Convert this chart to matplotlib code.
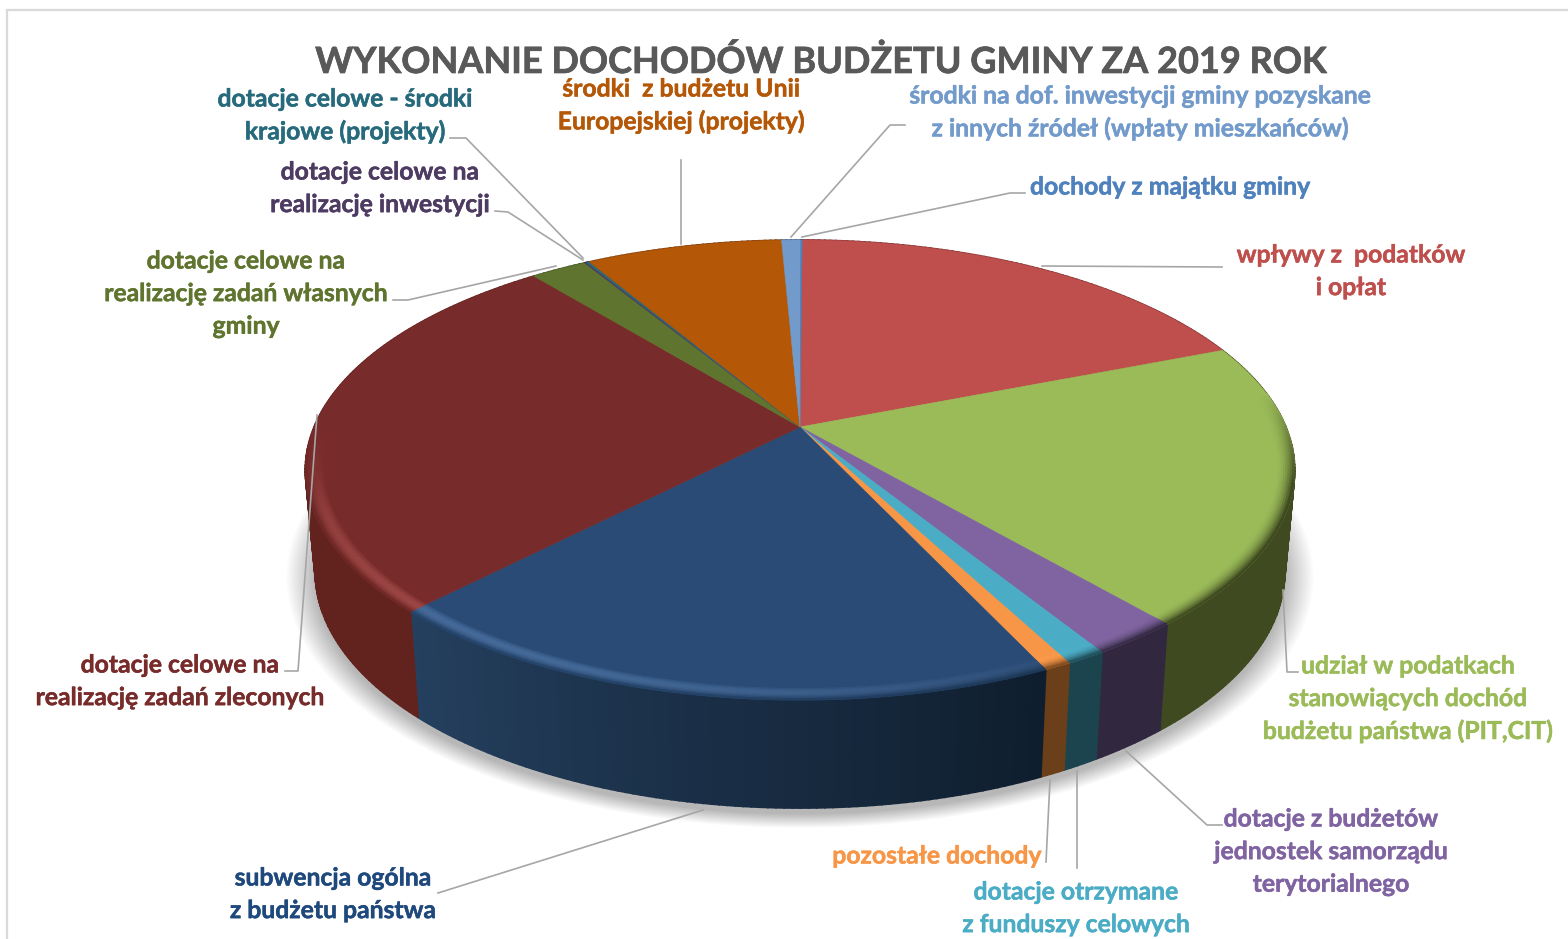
import numpy as np
import matplotlib
matplotlib.use('Agg')
import matplotlib.pyplot as plt
import matplotlib.patheffects as pe
from matplotlib.colors import to_rgb
from matplotlib.patches import Polygon, Rectangle

plt.rcParams['font.family'] = ['Lato', 'DejaVu Sans']

categories = ['wpływy z  podatków\ni opłat',
              'udział w podatkach\nstanowiących dochód\nbudżetu państwa (PIT,CIT)',
              'dotacje z budżetów\njednostek samorządu\nterytorialnego',
              'dotacje otrzymane\nz funduszy celowych',
              'pozostałe dochody',
              'subwencja ogólna\nz budżetu państwa',
              'dotacje celowe na\nrealizację zadań zleconych',
              'dotacje celowe na\nrealizację zadań własnych\ngminy',
              'dotacje celowe na\nrealizację inwestycji',
              'dotacje celowe - środki\nkrajowe (projekty)',
              'środki  z budżetu Unii\nEuropejskiej (projekty)',
              'środki na dof. inwestycji gminy pozyskane\nz innych źródeł (wpłaty mieszkańców)',
              'dochody z majątku gminy']
values = [18.9, 19.8, 2.47, 1.1, 0.75, 19.1, 27.0, 2.2, 0.08, 0.12, 7.68, 0.75, 0.05]
top_colors = ['#BE4F4D', '#9BBB59', '#8064A2', '#4BACC6', '#F79646', '#2A4B75', '#772B2A',
              '#5F752F', '#4D3B62', '#276A7C', '#B45706', '#729ACA', '#4F81BD']
wall_colors = ['#7A302E', '#3F4A20', '#312840', '#1B444E', '#6B3F1A', '#1B3350', '#62231F',
               '#3F4E1F', '#32263F', '#1A4552', '#74380A', '#4A6485', '#34557C']
label_colors = ['#BE4F4D', '#9BBB59', '#8064A2', '#4BACC6', '#F79646', '#1F497D', '#772B2A',
                '#5F752F', '#4D3B62', '#276A7C', '#B45706', '#729ACA', '#4F81BD']
label_pos = [(1351, 255), (1408, 666), (1331, 819), (1076, 892), (937, 856), (333, 878), (180, 665),
             (246, 261), (380, 172), (345, 99), (681, 89), (1140, 96), (1170, 187)]
leaders = [[(1222, 267), (1042, 266)],
           [(1298, 672), (1287, 672), (1283, 590)],
           [(1222, 825), (1207, 825), (1126, 751)],
           [(1077, 868), (1077, 771)],
           [(1046, 862), (1050, 780)],
           [(438, 893), (703, 810)],
           [(285, 671), (298, 671), (317, 415)],
           [(393, 300), (408, 300), (556, 266)],
           [(495, 211), (508, 212), (583, 260)],
           [(450, 138), (466, 138), (583, 258)],
           [(681, 160), (681, 244)],
           [(905, 125), (890, 125), (791, 237)],
           [(1025, 193), (1010, 193), (802, 237)]]


def project(theta, r=1.0):
    # theta in degrees, clockwise from the back of the disc
    t = np.radians(theta)
    u = r * np.sin(t)
    v = -r * np.cos(t)
    w = 1 - 0.187 * v
    return 800 + 486 * u / w, 427 + 222 * v / w


def project_low(theta):
    x, y = project(theta)
    v = -np.cos(np.radians(theta))
    return 800 + (x - 800) * 0.98, y + 100 + 8 * np.maximum(v, 0)


def mix(a, b, t):
    a = np.array(to_rgb(a))
    b = np.array(to_rgb(b))
    return tuple(np.clip(a + (b - a) * t, 0, 1))


fig = plt.figure(figsize=(15.68, 9.39), dpi=100)
ax = fig.add_axes([0, 0, 1, 1])
ax.set_xlim(0, 1568)
ax.set_ylim(939, 0)
ax.axis('off')

ax.add_patch(Rectangle((7, 10), 1600, 1000, fc='white', ec='#D9D9D9', lw=1.6, zorder=0))

# soft shadow under the disc
all_t = np.linspace(0, 360, 240)
lx, ly = project_low(all_t)
for s in np.linspace(1.06, 1.0, 36):
    ax.add_patch(Polygon(np.c_[800 + (lx - 800) * s, 575 + (ly - 575) * s + 6],
                         fc='black', ec='none', alpha=0.006, zorder=1))

edges = 0.3 + np.cumsum([0] + values) * 360 / sum(values)

# side wall, split in narrow strips so it can shade along the rim
for i in range(len(values)):
    n = max(int((edges[i + 1] - edges[i]) / 0.8), 1) + 1
    ts = np.linspace(edges[i], edges[i + 1], n + 1)
    for a, b in zip(ts[:-1], ts[1:]):
        xa, ya = project(a)
        xb, yb = project(b)
        xc, yc = project_low(b)
        xd, yd = project_low(a)
        c = wall_colors[i]
        if i == 5:
            c = mix('#0F1E2E', '#25405F', (a - edges[5]) / (edges[6] - edges[5]))
        ax.add_patch(Polygon([(xa, ya), (xb, yb), (xc, yc), (xd, yd)], fc=c, ec=c, lw=1.2, zorder=2))

# top of the wedges
for i in range(len(values)):
    ts = np.linspace(edges[i], edges[i + 1], max(int(edges[i + 1] - edges[i]) * 2, 2) + 1)
    x, y = project(ts)
    ax.add_patch(Polygon(np.r_[[(800, 427)], np.c_[x, y]], fc=top_colors[i], ec=top_colors[i], lw=0.4, zorder=3))

# bevel along the front of the rim
radii = np.linspace(0.965, 1.0, 9)
for i in range(len(values)):
    n = max(int((edges[i + 1] - edges[i]) / 0.8), 1) + 1
    ts = np.linspace(edges[i], edges[i + 1], n + 1)
    for a, b in zip(ts[:-1], ts[1:]):
        m = (a + b) / 2
        v = -np.cos(np.radians(m))
        if m > 180:
            vis = np.clip(v / 0.35, 0, 1)
        else:
            vis = np.clip((v + 0.15) / 0.4, 0, 1)
        if vis <= 0:
            continue
        high = max(0.0, np.cos(np.radians(m - 215))) ** 2
        for r0, r1 in zip(radii[:-1], radii[1:]):
            k = (r1 - radii[0]) / (radii[-1] - radii[0])
            c = mix(top_colors[i], wall_colors[i], vis * k ** 2 * (1 - high * 0.75))
            glow = vis * high * np.sin(np.pi * k)
            c = tuple(np.clip(np.array(c) * (1 + 0.25 * glow), 0, 1))
            c = mix(c, '#FFFFFF', 0.09 * glow)
            x0, y0 = project(np.array([a, b]), r0)
            x1, y1 = project(np.array([b, a]), r1)
            ax.add_patch(Polygon(np.c_[np.r_[x0, x1], np.r_[y0, y1]], fc=c, ec=c, lw=0.6, zorder=4))

ax.text(821, 62, 'WYKONANIE DOCHODÓW BUDŻETU GMINY ZA 2019 ROK', ha='center', va='center',
        fontsize=26, fontweight='bold', color='#595959', zorder=6,
        path_effects=[pe.withStroke(linewidth=0.5, foreground='#595959')])

for name, col, pos, pts in zip(categories, label_colors, label_pos, leaders):
    for j, line in enumerate(name.split('\n')):
        ax.text(pos[0], pos[1] + j * 32.6, line, ha='center', va='center', fontsize=17.8,
                fontweight='bold', color=col, zorder=6,
                path_effects=[pe.withStroke(linewidth=0.35, foreground=col)])
    ax.plot(*zip(*pts), color='#A6A6A6', lw=1.2, zorder=5)

fig.savefig('out.png', dpi=100)
